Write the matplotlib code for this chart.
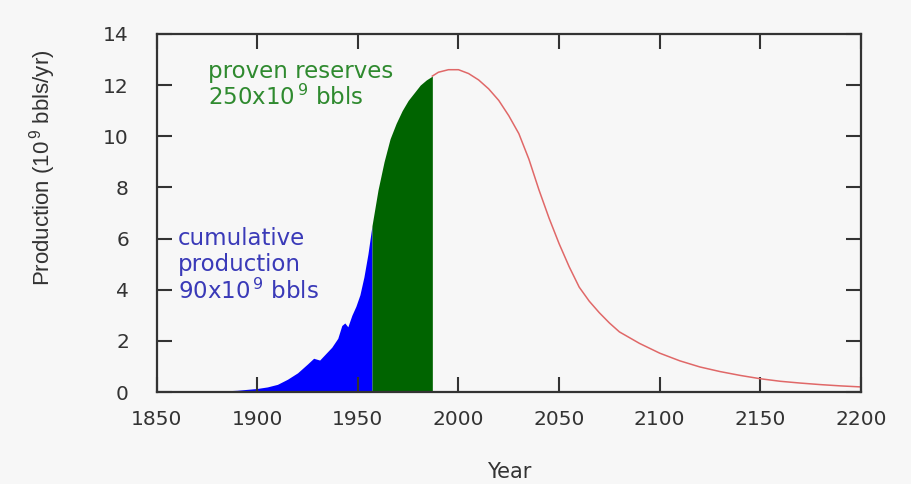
import matplotlib
matplotlib.use("Agg")
import matplotlib.pyplot as plt

plt.rcParams['font.family'] = ['DejaVu Sans']
plt.rcParams['mathtext.default'] = 'regular'

# cumulative production (blue area)
hist_years = [1860, 1870, 1880, 1890, 1900, 1905, 1910, 1915, 1920, 1925, 1928,
              1931, 1934, 1937, 1940, 1942, 1943.5, 1945, 1947, 1949, 1951,
              1953, 1955, 1957]
hist_prod = [0.0, 0.01, 0.03, 0.07, 0.14, 0.2, 0.3, 0.5, 0.75, 1.1, 1.32,
             1.25, 1.5, 1.75, 2.1, 2.6, 2.7, 2.55, 3.0, 3.35, 3.8,
             4.5, 5.4, 6.5]

# proven reserves (green area)
reserve_years = [1957, 1960, 1963, 1966, 1969, 1972, 1975, 1978, 1981, 1984, 1987]
reserve_prod = [6.5, 7.9, 9.0, 9.9, 10.5, 11.0, 11.4, 11.7, 12.0, 12.2, 12.35]

# forecast (red line)
forecast_years = [1987, 1990, 1995, 2000, 2005, 2010, 2015, 2020, 2025, 2030,
                  2035, 2040, 2045, 2050, 2055, 2060, 2065, 2070, 2075, 2080, 2090,
                  2100, 2110, 2120, 2130, 2140, 2150, 2160, 2170, 2180, 2190, 2200]
forecast_prod = [12.35, 12.5, 12.6, 12.6, 12.45, 12.2, 11.85, 11.4, 10.8, 10.1,
                 9.1, 7.9, 6.8, 5.8, 4.9, 4.1, 3.55, 3.1, 2.7, 2.35, 1.9,
                 1.52, 1.22, 0.98, 0.8, 0.65, 0.52, 0.42, 0.35, 0.29, 0.24, 0.2]

xticks = [1850, 1900, 1950, 2000, 2050, 2100, 2150, 2200]
yticks = [0, 2, 4, 6, 8, 10, 12, 14]

bg = '#f7f7f7'
fig = plt.figure(figsize=(9.11, 4.84), dpi=100, facecolor=bg)
ax = fig.add_axes([0.172, 0.190, 0.773, 0.740], facecolor=bg)

ax.fill_between(hist_years, hist_prod, 0, color='#0000ff', linewidth=0)
ax.fill_between(reserve_years, reserve_prod, 0, color='#006400', linewidth=0)
ax.plot(forecast_years, forecast_prod, color='#e06868', linewidth=1.1)

ax.set_xlim(1850, 2200)
ax.set_ylim(0, 14)
ax.set_xticks(xticks)
ax.set_yticks(yticks)
ax.tick_params(direction='in', length=11, width=1.5, top=True, right=True,
               labelsize=14.5, colors='#333333')
ax.tick_params(axis='x', pad=13)
ax.tick_params(axis='y', pad=20)
for s in ax.spines.values():
    s.set_linewidth(1.6)
    s.set_color('#333333')

ax.set_xlabel('Year', fontsize=15, color='#333333')
ax.xaxis.set_label_coords(0.5, -0.195)
ax.set_ylabel('Production (10$^{\\,9}$ bbls/yr)', fontsize=16, color='#333333',
              family='Liberation Sans')
ax.yaxis.set_label_coords(-0.14, 0.625)

ax.text(1875.5, 12.0, 'proven reserves\n250x10$^{\\,9}$ bbls', color='#2f8a2f',
        fontsize=16.5, va='center', ha='left', linespacing=1.1)
ax.text(1860.5, 4.95, 'cumulative\nproduction\n90x10$^{\\,9}$ bbls', color='#3a3ab8',
        fontsize=16.5, va='center', ha='left', linespacing=1.15)

fig.savefig('out.png', dpi=100, facecolor=bg)
